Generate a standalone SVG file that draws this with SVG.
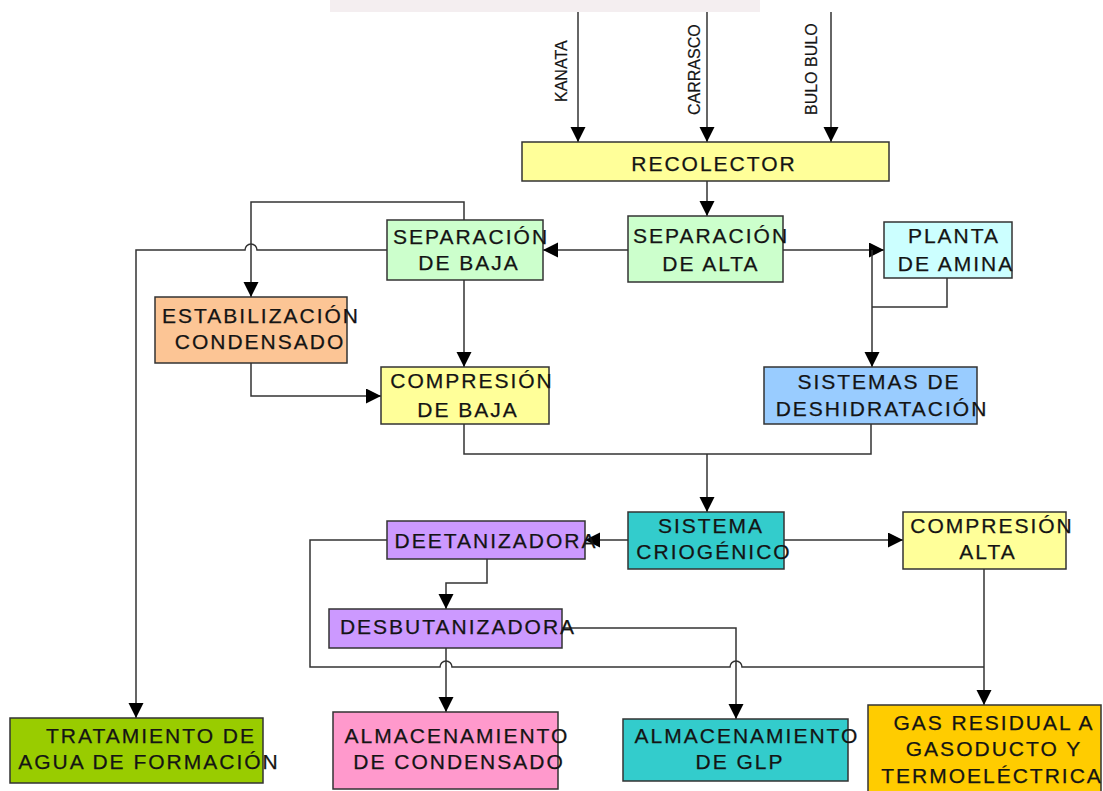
<svg xmlns="http://www.w3.org/2000/svg" width="1103" height="791" viewBox="0 0 1103 791">
<style>
.box{stroke:#333;stroke-width:1.5}
.t{font-family:"Liberation Sans",Arial,sans-serif;font-size:21px;letter-spacing:2px;fill:#141414;stroke:#141414;stroke-width:0.25;text-anchor:middle}
.v{font-family:"Liberation Sans",Arial,sans-serif;font-size:16px;fill:#141414;stroke:#141414;stroke-width:0.2}
.c{fill:none;stroke:#333;stroke-width:1.5}
</style>
<defs>
<marker id="ah" markerUnits="userSpaceOnUse" markerWidth="16" markerHeight="16" refX="15" refY="7.5" orient="auto">
<path d="M0,0 L15,7.5 L0,15 z" fill="#000"/>
</marker>
</defs>
<rect width="1103" height="791" fill="#fff"/>
<rect x="330" y="0" width="430" height="12" fill="#f4eef0"/>
<g id="connectors">
<path class="c" d="M578,12 V142" marker-end="url(#ah)"/>
<path class="c" d="M707,12 V142" marker-end="url(#ah)"/>
<path class="c" d="M831,12 V142" marker-end="url(#ah)"/>
<path class="c" d="M707,181 V216" marker-end="url(#ah)"/>
<path class="c" d="M628,250 H543" marker-end="url(#ah)"/>
<path class="c" d="M783,250 H884" marker-end="url(#ah)"/>
<path class="c" d="M872,250 V367" marker-end="url(#ah)"/>
<path class="c" d="M947,278 V307 H872"/>
<path class="c" d="M464,280 V367" marker-end="url(#ah)"/>
<path class="c" d="M464,220 V202 H251 V297" marker-end="url(#ah)"/>
<path class="c" d="M387,250 H257 A6,6 0 0 0 245,250 H136 V718" marker-end="url(#ah)"/>
<path class="c" d="M251,363 V396 H381" marker-end="url(#ah)"/>
<path class="c" d="M464,424 V454 H871 V424"/>
<path class="c" d="M707,454 V512" marker-end="url(#ah)"/>
<path class="c" d="M628,540 H585" marker-end="url(#ah)"/>
<path class="c" d="M784,540 H903" marker-end="url(#ah)"/>
<path class="c" d="M487,559 V583 H446 V609" marker-end="url(#ah)"/>
<path class="c" d="M387,540 H310 V667 H440 A6,6 0 0 1 452,667 H730 A6,6 0 0 1 742,667 H984"/>
<path class="c" d="M984,569 V705" marker-end="url(#ah)"/>
<path class="c" d="M446,648 V712" marker-end="url(#ah)"/>
<path class="c" d="M562,628 H736 V719" marker-end="url(#ah)"/>
</g>
<g id="kanata"><text class="v" transform="translate(567,102) rotate(-90)">KANATA</text></g>
<g id="carrasco"><text class="v" transform="translate(700,115) rotate(-90)">CARRASCO</text></g>
<g id="bulobulo"><text class="v" transform="translate(817,115) rotate(-90)">BULO BULO</text></g>
<g id="recolector"><rect class="box" x="522" y="142" width="367" height="39" fill="#ffff99"/><text class="t" x="714" y="171">RECOLECTOR</text></g>
<g id="sep-alta"><rect class="box" x="628" y="216" width="155" height="66" fill="#ccffcc"/><text class="t" x="711" y="243">SEPARACIÓN</text><text class="t" x="711" y="271">DE ALTA</text></g>
<g id="sep-baja"><rect class="box" x="387" y="220" width="156" height="60" fill="#ccffcc"/><text class="t" x="471" y="244">SEPARACIÓN</text><text class="t" x="469" y="270">DE BAJA</text></g>
<g id="planta-amina"><rect class="box" x="884" y="222" width="128" height="56" fill="#ccffff"/><text class="t" x="954" y="243">PLANTA</text><text class="t" x="956" y="271">DE AMINA</text></g>
<g id="estabilizacion"><rect class="box" x="155" y="297" width="192" height="66" fill="#fcc595"/><text class="t" x="261" y="323">ESTABILIZACIÓN</text><text class="t" x="260" y="349">CONDENSADO</text></g>
<g id="compresion-baja"><rect class="box" x="381" y="367" width="168" height="57" fill="#ffff99"/><text class="t" x="472" y="388">COMPRESIÓN</text><text class="t" x="468" y="417">DE BAJA</text></g>
<g id="deshidratacion"><rect class="box" x="764" y="367" width="213" height="57" fill="#99ccff"/><text class="t" x="879" y="389">SISTEMAS DE</text><text class="t" x="882" y="416">DESHIDRATACIÓN</text></g>
<g id="criogenico"><rect class="box" x="628" y="512" width="156" height="57" fill="#33cccc"/><text class="t" x="711" y="533">SISTEMA</text><text class="t" x="714" y="559">CRIOGÉNICO</text></g>
<g id="compresion-alta"><rect class="box" x="903" y="512" width="163" height="57" fill="#ffff99"/><text class="t" x="992" y="533">COMPRESIÓN</text><text class="t" x="988" y="559">ALTA</text></g>
<g id="deetanizadora"><rect class="box" x="387" y="521" width="198" height="38" fill="#cc99ff"/><text class="t" x="496" y="548">DEETANIZADORA</text></g>
<g id="desbutanizadora"><rect class="box" x="329" y="609" width="233" height="39" fill="#cc99ff"/><text class="t" x="458" y="634">DESBUTANIZADORA</text></g>
<g id="tratamiento"><rect class="box" x="10" y="718" width="253" height="65" fill="#99cc00"/><text class="t" x="151" y="743">TRATAMIENTO DE</text><text class="t" x="149" y="769">AGUA DE FORMACIÓN</text></g>
<g id="alm-condensado"><rect class="box" x="333" y="712" width="225" height="77" fill="#ff99cc"/><text class="t" x="457" y="743">ALMACENAMIENTO</text><text class="t" x="459" y="769">DE CONDENSADO</text></g>
<g id="alm-glp"><rect class="box" x="623" y="719" width="225" height="62" fill="#33cccc"/><text class="t" x="747" y="743">ALMACENAMIENTO</text><text class="t" x="740" y="769">DE GLP</text></g>
<g id="gas-residual"><rect class="box" x="868" y="705" width="233" height="90" fill="#ffcc00"/><text class="t" x="994" y="730">GAS RESIDUAL A</text><text class="t" x="994" y="756">GASODUCTO Y</text><text class="t" x="992" y="783">TERMOELÉCTRICA</text></g>
</svg>
